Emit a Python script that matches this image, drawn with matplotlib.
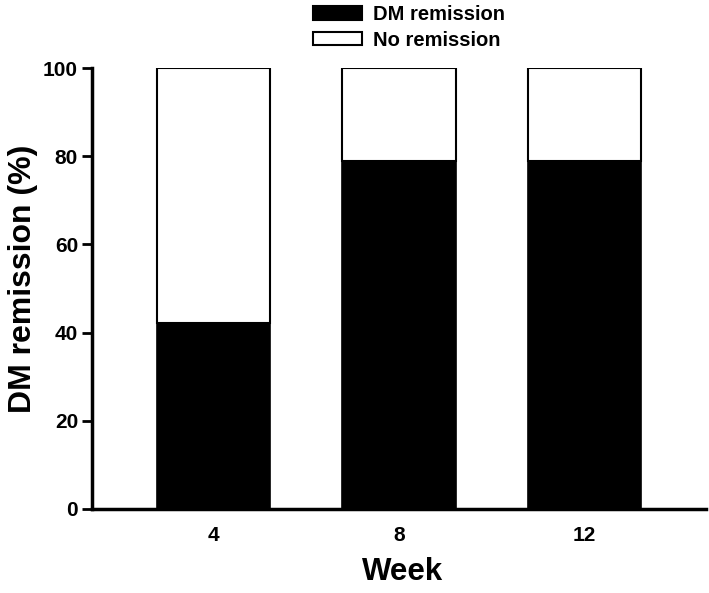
import matplotlib
matplotlib.use("Agg")
import matplotlib.pyplot as plt
from matplotlib.patches import Patch

weeks = ["4", "8", "12"]
remission = [42.1, 78.9, 78.9]
no_remission = [100 - v for v in remission]
yticks = [0, 20, 40, 60, 80, 100]

plt.rcParams['font.family'] = ['Liberation Sans', 'DejaVu Sans']
plt.rcParams['font.weight'] = 'bold'

fig = plt.figure(figsize=(7.09, 5.93), dpi=100)
ax = fig.add_axes([92/709, 1-509/593, (706-92)/709, (509-68)/593])

x = list(range(len(weeks)))
ax.bar(x, remission, width=0.61, color='black', edgecolor='black', linewidth=1.2, zorder=2)
ax.bar(x, no_remission, bottom=remission, width=0.61, color='white', edgecolor='black', linewidth=1.5, zorder=2)

ax.set_xlim(-0.655, 2.655)
ax.set_ylim(0, 100)
ax.set_xticks(x)
ax.set_xticklabels(weeks, fontsize=15, fontweight='bold')
ax.set_yticks(yticks)
ax.set_yticklabels([str(v) for v in yticks], fontsize=15, fontweight='bold')
ax.tick_params(axis='x', length=0, pad=12)
ax.tick_params(axis='y', length=7, width=2, pad=3)
for s in ['top', 'right']:
    ax.spines[s].set_visible(False)
for s in ['left', 'bottom']:
    ax.spines[s].set_linewidth(2.5)
ax.set_xlabel("Week", fontsize=22.5, fontweight='bold', labelpad=9)
ax.xaxis.label.set_x(0.505)
ax.set_ylabel("DM remission (%)", fontsize=23, fontweight='bold', labelpad=4)
ax.yaxis.label.set_y(0.522)

handles = [Patch(facecolor='black', edgecolor='black', linewidth=1.5),
           Patch(facecolor='white', edgecolor='black', linewidth=1.5)]
fig.legend(handles, ["DM remission", "No remission"], loc='upper left',
           bbox_to_anchor=(313/709, 1-5/593), frameon=False,
           handlelength=2.45, handleheight=0.65, handletextpad=0.55,
           labelspacing=0.33, borderpad=0, borderaxespad=0,
           prop={'weight': 'bold', 'size': 14.5})

fig.savefig("out.png", dpi=100)
